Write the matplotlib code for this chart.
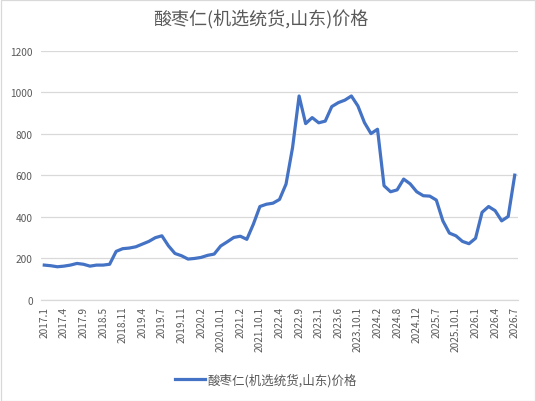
import numpy as np
import matplotlib
matplotlib.use("Agg")
import matplotlib.pyplot as plt
from matplotlib.patches import Rectangle

plt.rcParams['font.family'] = ['Noto Sans CJK SC', 'DejaVu Sans']

title = "酸枣仁(机选统货,山东)价格"
series_name = "酸枣仁(机选统货,山东)价格"

# visible tick labels (every 3rd category)
tick_labels = ["2017.1", "2017.4", "2017.9", "2018.5", "2018.11", "2019.4", "2019.7",
               "2019.11", "2020.2", "2020.10.1", "2021.2", "2021.10.1", "2022.4",
               "2022.9", "2023.1", "2023.6", "2023.10.1", "2024.2", "2024.8",
               "2024.12", "2025.7", "2025.10.1", "2026.1", "2026.4", "2026.7"]

values = [168, 165, 160, 163, 168, 176, 172, 163, 168, 168,
          172, 234, 247, 250, 256, 269, 282, 300, 309, 261,
          224, 213, 197, 200, 205, 215, 221, 260, 280, 301,
          307, 292, 365, 450, 461, 466, 484, 558, 734, 982,
          849, 878, 853, 861, 931, 950, 962, 982, 934, 854,
          801, 822, 550, 521, 530, 582, 559, 521, 502, 500,
          481, 381, 322, 309, 282, 271, 297, 422, 450, 430,
          381, 402, 601]

W, H = 536, 402
fig = plt.figure(figsize=(W / 100, H / 100), dpi=100)
ax = fig.add_axes([41 / W, 1 - 301 / H, (518 - 41) / W, (301 - 51.7) / H])

x = np.arange(len(values))
ax.plot(x, values, color="#4472C4", linewidth=2.3, solid_joinstyle="round",
        label=series_name)

ax.set_xlim(-0.5, len(values) - 0.5)
ax.set_ylim(0, 1200)
ax.set_yticks(range(0, 1201, 200))
ax.set_xticks(x[::3])
ax.set_xticklabels(tick_labels, rotation=90, fontsize=7.3, color="#595959")
ax.tick_params(axis="y", labelsize=7.3, labelcolor="#595959", length=0, pad=6)
ax.tick_params(axis="x", length=0, pad=4)
ax.grid(axis="y", color="#d9d9d9", linewidth=0.9)
ax.set_axisbelow(True)
for s in ["top", "right", "left"]:
    ax.spines[s].set_visible(False)
ax.spines["bottom"].set_color("#d9d9d9")
ax.spines["bottom"].set_linewidth(0.9)

fig.text(261 / W, 1 - 20 / H, title, ha="center", va="center",
         fontsize=13, color="#595959")

fig.legend(loc="center", bbox_to_anchor=(266 / W, 1 - 381 / H), frameon=False,
           fontsize=9, handlelength=2.4, handletextpad=0.2,
           labelcolor="#595959")

fig.patches.append(Rectangle((0.5 / W, 0.5 / H), 1 - 1.5 / W, 1 - 1.5 / H,
                             transform=fig.transFigure, fill=False,
                             edgecolor="#d9d9d9", linewidth=0.9))

fig.savefig("out.png", dpi=100)
